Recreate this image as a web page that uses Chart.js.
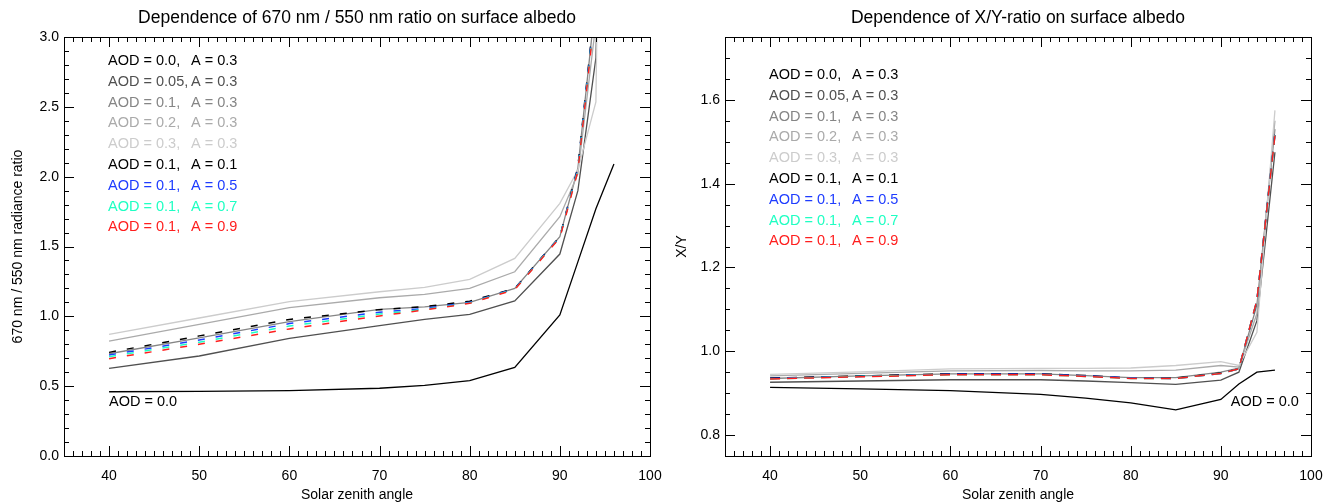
<!DOCTYPE html>
<html>
<head>
<meta charset="utf-8">
<title>Dependence on surface albedo</title>
<script src="https://cdn.jsdelivr.net/npm/chart.js@4.4.1/dist/chart.umd.min.js"></script>
<style>
  body { margin: 0; background: #fff; }
  .panel { position: absolute; top: 0; height: 504px; }
  #leftPanel { left: 0; width: 662px; }
  #rightPanel { left: 662px; width: 661px; }
</style>
</head>
<body>
<div class="panel" id="leftPanel"><canvas id="ratioChart"></canvas></div>
<div class="panel" id="rightPanel"><canvas id="xyChart"></canvas></div>
<script>
// Solar zenith angles (deg), shared by both panels
const zenith = [40, 50, 60, 70, 75, 80, 85, 90, 92, 94, 96];
const zenithTicks = [40, 50, 60, 70, 80, 90, 100];

// Left panel: 670 nm / 550 nm radiance ratio
const ratioAod000 = [0.460, 0.463, 0.468, 0.485, 0.505, 0.540, 0.635, 1.010, 1.390, 1.770, 2.090];
const ratioAod005 = [0.628, 0.716, 0.842, 0.933, 0.978, 1.014, 1.110, 1.446, 1.900, 2.850, 8.0];
const ratioAod010 = [0.732, 0.845, 0.962, 1.050, 1.068, 1.100, 1.200, 1.570, 2.060, 3.280, 9.0];
const ratioAod020 = [0.823, 0.942, 1.062, 1.133, 1.157, 1.200, 1.319, 1.713, 2.020, 3.100, 10.0];
const ratioAod030 = [0.871, 0.988, 1.105, 1.176, 1.207, 1.265, 1.415, 1.809, 2.047, 2.536, 12.0];
const ratioAlb01 = [0.742, 0.860, 0.978, 1.048, 1.070, 1.108, 1.200, 1.570, 2.070, 3.300, 9.0];
const ratioAlb05 = [0.723, 0.830, 0.948, 1.030, 1.057, 1.100, 1.198, 1.568, 2.060, 3.280, 9.0];
const ratioAlb07 = [0.711, 0.815, 0.930, 1.016, 1.050, 1.096, 1.195, 1.565, 2.050, 3.260, 9.0];
const ratioAlb09 = [0.697, 0.800, 0.910, 1.003, 1.045, 1.093, 1.192, 1.562, 2.040, 3.240, 9.0];
const ratioTicks = [0.0, 0.5, 1.0, 1.5, 2.0, 2.5, 3.0];

// Right panel: X/Y ratio
const xyAod000 = [0.914, 0.910, 0.906, 0.897, 0.888, 0.877, 0.860, 0.885, 0.922, 0.950, 0.955];
const xyAod005 = [0.926, 0.929, 0.932, 0.932, 0.929, 0.925, 0.921, 0.931, 0.950, 1.073, 1.475];
const xyAod010 = [0.935, 0.941, 0.946, 0.946, 0.942, 0.937, 0.937, 0.950, 0.960, 1.110, 1.530];
const xyAod020 = [0.941, 0.947, 0.953, 0.954, 0.953, 0.953, 0.955, 0.966, 0.962, 1.090, 1.550];
const xyAod030 = [0.945, 0.951, 0.958, 0.959, 0.959, 0.960, 0.966, 0.975, 0.966, 1.045, 1.575];
const xyAlb01 = [0.936, 0.941, 0.946, 0.946, 0.942, 0.936, 0.936, 0.948, 0.958, 1.120, 1.520];
const xyAlb05 = [0.935, 0.940, 0.945, 0.945, 0.941, 0.936, 0.935, 0.947, 0.958, 1.121, 1.518];
const xyAlb07 = [0.934, 0.940, 0.944, 0.944, 0.940, 0.935, 0.935, 0.947, 0.958, 1.121, 1.516];
const xyAlb09 = [0.934, 0.939, 0.944, 0.944, 0.940, 0.935, 0.935, 0.947, 0.958, 1.122, 1.515];
const xyTicks = [0.8, 1.0, 1.2, 1.4, 1.6];

// Legend rows, in the order they are listed on the plots
const legendAod = ['AOD = 0.0,', 'AOD = 0.05,', 'AOD = 0.1,', 'AOD = 0.2,', 'AOD = 0.3,',
                   'AOD = 0.1,', 'AOD = 0.1,', 'AOD = 0.1,', 'AOD = 0.1,'];
const legendAlbedo = ['A = 0.3', 'A = 0.3', 'A = 0.3', 'A = 0.3', 'A = 0.3',
                      'A = 0.1', 'A = 0.5', 'A = 0.7', 'A = 0.9'];
const seriesColors = ['#000000', '#505050', '#858585', '#aaaaaa', '#cccccc',
                      '#000000', '#1e3cff', '#1effc3', '#ff1e1e'];
const seriesDashed = [false, false, false, false, false, true, true, true, true];

const FONT = "'Liberation Sans', Arial, Helvetica, sans-serif";
Chart.defaults.font.family = FONT;
Chart.defaults.color = '#000';

/**
 * Draws the box, the inward IDL style ticks on all four sides,
 * the title centred over the plot box and the in-plot legend text.
 */
const frameTicks = {
  id: 'frameTicks',
  afterDatasetsDraw(chart, args, opts) {
    const {ctx, chartArea: a, scales: {x, y}} = chart;
    ctx.save();
    ctx.strokeStyle = '#000';
    ctx.lineWidth = 1;
    ctx.strokeRect(Math.round(a.left) + 0.5, Math.round(a.top) + 0.5,
                   Math.round(a.right - a.left), Math.round(a.bottom - a.top));

    ctx.beginPath();
    // x ticks every degree, long ones on the labelled values
    for (let v = Math.ceil(x.min); v <= x.max; v++) {
      const px = Math.round(x.getPixelForValue(v)) + 0.5;
      const len = zenithTicks.includes(v) ? 10 : 5;
      ctx.moveTo(px, a.bottom); ctx.lineTo(px, a.bottom - len);
      ctx.moveTo(px, a.top); ctx.lineTo(px, a.top + len);
    }
    // y ticks
    const n = Math.round((y.max - y.min) / opts.yMinor);
    for (let i = 0; i <= n; i++) {
      const v = y.min + i * opts.yMinor;
      const py = Math.round(y.getPixelForValue(v)) + 0.5;
      const major = opts.yMajor.some(t => Math.abs(t - v) < 1e-6);
      const len = major ? 10 : 5;
      ctx.moveTo(a.left, py); ctx.lineTo(a.left + len, py);
      ctx.moveTo(a.right, py); ctx.lineTo(a.right - len, py);
    }
    ctx.stroke();

    ctx.textBaseline = 'middle';
    ctx.fillStyle = '#000';

    // plot title
    ctx.font = '17.5px ' + FONT;
    ctx.textAlign = 'center';
    ctx.fillText(opts.title, (a.left + a.right) / 2, 18);

    // legend rows
    ctx.font = '14.5px ' + FONT;
    ctx.textAlign = 'left';
    const lx = x.getPixelForValue(40) - 1;
    legendAod.forEach((txt, i) => {
      const ly = a.top + opts.legendTop + i * 20.8;
      ctx.fillStyle = seriesColors[i];
      ctx.fillText(txt, lx, ly);
      ctx.fillText(legendAlbedo[i], lx + 83, ly);
    });

    // label of the aerosol free curve
    ctx.fillStyle = '#000';
    ctx.fillText('AOD = 0.0', x.getPixelForValue(opts.note[0]), y.getPixelForValue(opts.note[1]));
    ctx.restore();
  }
};

function makeChart(canvasId, title, yTitle, series, cfg) {
  const datasets = series.map((values, i) => ({
    data: values.map((v, j) => ({x: zenith[j], y: v})),
    borderColor: seriesColors[i],
    borderWidth: seriesDashed[i] ? 1.5 : 1.3,
    borderDash: seriesDashed[i] ? cfg.dash : [],
    pointRadius: 0,
    tension: 0,
    order: series.length - 1 - i  // red dashed curve ends up on top
  }));

  return new Chart(document.getElementById(canvasId), {
    type: 'line',
    data: {datasets},
    options: {
      responsive: true,
      maintainAspectRatio: false,
      animation: false,
      layout: {padding: {left: 0, right: 12, top: 37, bottom: 0}},
      plugins: {
        legend: {display: false},
        tooltip: {enabled: false},
        title: {display: false},
        frameTicks: {
          title: title,
          yMinor: cfg.yMinor,
          yMajor: cfg.yTicks,
          legendTop: cfg.legendTop,
          note: cfg.note
        }
      },
      scales: {
        x: {
          type: 'linear',
          min: 35,
          max: 100,
          grid: {display: false, drawTicks: false},
          border: {display: false},
          afterBuildTicks: s => { s.ticks = zenithTicks.map(v => ({value: v})); },
          // fixed height, and no extra side padding for the end labels
          afterFit: s => { s.height = 48; s.paddingLeft = 0; s.paddingRight = 0; },
          ticks: {font: {size: 14}, padding: 12, maxRotation: 0, callback: v => String(v)},
          title: {display: true, text: 'Solar zenith angle', font: {size: 14}, padding: {top: 2, bottom: 0}}
        },
        y: {
          type: 'linear',
          min: cfg.yMin,
          max: cfg.yMax,
          grid: {display: false, drawTicks: false},
          border: {display: false},
          afterBuildTicks: s => { s.ticks = cfg.yTicks.map(v => ({value: v})); },
          afterFit: s => { s.width = cfg.yWidth; s.paddingTop = 0; s.paddingBottom = 0; },
          ticks: {font: {size: 14}, padding: 5, callback: v => v.toFixed(1)},
          title: {display: true, text: yTitle, font: {size: 14}, padding: {top: cfg.yTitlePad, bottom: 0}}
        }
      }
    },
    plugins: [frameTicks]
  });
}

makeChart('ratioChart', 'Dependence of 670 nm / 550 nm ratio on surface albedo',
  '670 nm / 550 nm radiance ratio',
  [ratioAod000, ratioAod005, ratioAod010, ratioAod020, ratioAod030,
   ratioAlb01, ratioAlb05, ratioAlb07, ratioAlb09],
  {yMin: 0, yMax: 3, yTicks: ratioTicks, yMinor: 0.1, yWidth: 64, yTitlePad: 10,
   legendTop: 24, note: [40, 0.385], dash: [7, 11]});

makeChart('xyChart', 'Dependence of X/Y-ratio on surface albedo', 'X/Y',
  [xyAod000, xyAod005, xyAod010, xyAod020, xyAod030,
   xyAlb01, xyAlb05, xyAlb07, xyAlb09],
  {yMin: 0.75, yMax: 1.75, yTicks: xyTicks, yMinor: 0.05, yWidth: 63, yTitlePad: 12,
   legendTop: 38, note: [91.1, 0.879], dash: [10, 7]});
</script>
</body>
</html>
